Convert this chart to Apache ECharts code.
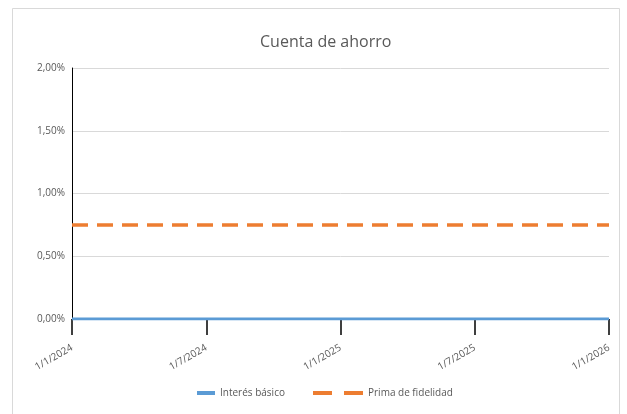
<!DOCTYPE html>
<html><head><meta charset="utf-8">
<script src="https://cdn.jsdelivr.net/npm/echarts@6/dist/echarts.min.js"></script>
<style>html,body{margin:0;padding:0;background:#fff}#c{width:627px;height:414px}</style>
</head><body><div id="c"></div>
<script>
const categories = ['1/1/2024','1/7/2024','1/1/2025','1/7/2025','1/1/2026'];
const interesBasico = [0, 0, 0, 0, 0];
const primaFidelidad = [0.75, 0.75, 0.75, 0.75, 0.75];
const yTicks = [0, 0.5, 1, 1.5, 2];

const chart = echarts.init(document.getElementById('c'));
const font = 'Open Sans, Liberation Sans, sans-serif';
chart.setOption({
  animation: false,
  backgroundColor: '#fff',
  graphic: [{type:'rect', shape:{x:12.5,y:8.5,width:607,height:420}, style:{fill:'none', stroke:'#d9d9d9', lineWidth:1}, silent:true}],
  title: {text:'Cuenta de ahorro', left:255, top:29, textStyle:{fontFamily:font, fontSize:16, fontWeight:'normal', color:'#595959'}},
  legend: [
    {left:192, top:383, itemWidth:18, itemHeight:4,
      textStyle:{fontFamily:font, fontSize:10, color:'#595959'},
      data:[{name:'Interés básico', icon:'rect'}]},
    {left:308, top:383, itemWidth:50, itemHeight:4,
      textStyle:{fontFamily:font, fontSize:10, color:'#595959'},
      data:[{name:'Prima de fidelidad', icon:'path://M0,0h19v4h-19z M31,0h19v4h-19z'}]}
  ],
  grid: {left:72, right:18, top:68, bottom:95},
  xAxis: {type:'category', data:categories, boundaryGap:false,
    axisLine:{lineStyle:{color:'#000', width:1}},
    axisTick:{show:true, length:16, lineStyle:{color:'#000', width:1.5}, interval:0},
    axisLabel:{rotate:30, margin:28, fontFamily:font, fontSize:10, color:'#595959', interval:0},
    splitLine:{show:false}},
  yAxis: {type:'value', min:0, max:2, interval:0.5,
    axisLine:{show:true, lineStyle:{color:'#000', width:1}},
    axisTick:{show:false},
    axisLabel:{fontFamily:font, fontSize:10, color:'#595959', margin:7,
      formatter: v => v.toFixed(2).replace('.', ',') + '%'},
    splitLine:{lineStyle:{color:'#d9d9d9', width:1}}},
  series: [
    {name:'Interés básico', type:'line', data:interesBasico, symbol:'none',
      lineStyle:{color:'#5b9bd5', width:3}, itemStyle:{color:'#5b9bd5'}, z:3},
    {name:'Prima de fidelidad', type:'line', data:primaFidelidad, symbol:'none',
      lineStyle:{color:'#ed7d31', width:3.5, type:[16,9]}, itemStyle:{color:'#ed7d31'}}
  ]
});
</script></body></html>
